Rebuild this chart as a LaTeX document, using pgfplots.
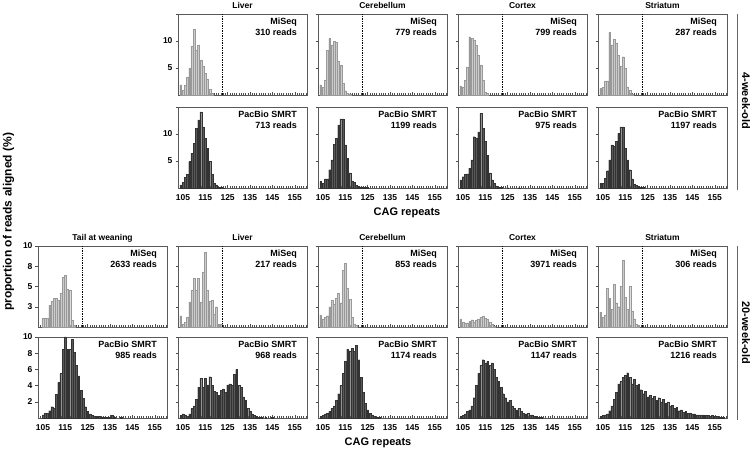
\documentclass[border=0pt]{standalone}
\usepackage{fontspec}
\setmainfont{Liberation Sans}
\usepackage{pgfplots}
\pgfplotsset{compat=1.18}

\pgfplotsset{
  panel/.style={
    scale only axis, width=129pt, height=81pt, anchor=north west,
    xmin=102.8, xmax=160.5, ymin=0, clip=false,
    xtick={105,115,...,155}, minor xtick={103,...,160},
    tick pos=left,
    tick align=inside, major tick length=2.5pt, minor tick length=2pt,
    ytick style={xshift=-2.5pt},
    xticklabels={}, yticklabels={},
    axis line style={black!65, line width=0.8pt},
    tick style={black!70, line width=0.4pt},
    font=\bfseries\fontsize{8.5}{9}\selectfont,
    tick label style={font=\bfseries\fontsize{8.5}{9}\selectfont},
    /pgf/number format/assume math mode=true,
    xticklabel style={yshift=-3pt},
    yticklabel style={xshift=-2pt},
  },
  mi/.style={ybar, bar width=0.85, fill=gray!40, draw=gray!80, line width=0.3pt},
  pb/.style={ybar, bar width=0.8, fill=black!65, draw=black!80, line width=0.2pt},
  topy/.style={ymax=15, ytick={5,10,15}},
  topyl/.style={ymax=15, ytick={5,10}, extra y ticks={15}, extra y tick labels={},
                yticklabel={\pgfmathprintnumber{\tick}}},
  misb/.style={ymax=10, ytick={2.5,5,7.5,10}},
  pbb/.style={ymax=10, ytick={2,4,6,8,10}},
  xlab/.style={xticklabel={\pgfmathprintnumber{\tick}}},
}
\tikzset{
  lbl/.style={anchor=north east, align=right, inner sep=0pt, xshift=-10pt, yshift=-4pt,
              font=\bfseries\fontsize{9}{11}\selectfont},
  ttl/.style={anchor=base, yshift=5pt, font=\bfseries\fontsize{8.5}{9}\selectfont},
}

\begin{document}
\begin{tikzpicture}
\path[use as bounding box] (0,0) rectangle (753pt,453pt);

% ================= 4-week-old =================
% Liver
\begin{axis}[panel, topyl, at={(178pt,439pt)}]
\addplot[mi] coordinates {(104,1.9)(105,0.9)(106,1.8)(107,3.3)(108,5.0)(109,9.0)(110,12.2)(111,8.3)(112,9.3)(113,6.5)(114,5.4)(115,4.0)(116,3.0)(117,1.0)(118,0.3)};
\draw[densely dotted, line width=0.7pt] (axis cs:122.5,0) -- (axis cs:122.5,15);
\node[lbl] at (rel axis cs:1,1) {MiSeq\\310 reads};
\node[ttl] at (rel axis cs:0.5,1) {Liver};
\end{axis}
\begin{axis}[panel, topyl, xlab, at={(178pt,346pt)}]
\addplot[pb] coordinates {(104,0.6)(105,1.1)(106,2.0)(107,2.5)(108,4.9)(109,6.4)(110,8.3)(111,11.0)(112,12.6)(113,14.1)(114,11.3)(115,9.2)(116,7.4)(117,4.9)(118,2.5)(119,0.9)(120,0.6)(121,0.2)(122,0.1)(123,0.05)};
\node[lbl] at (rel axis cs:1,1) {PacBio SMRT\\713 reads};
\end{axis}

% Cerebellum
\begin{axis}[panel, topy, at={(318pt,439pt)}]
\addplot[mi] coordinates {(104,1.9)(105,1.4)(106,2.8)(107,8.3)(108,10.5)(109,9.3)(110,9.9)(111,9.7)(112,6.2)(113,5.6)(114,2.2)(115,0.8)(116,0.3)(117,0.2)};
\draw[densely dotted, line width=0.7pt] (axis cs:122.5,0) -- (axis cs:122.5,15);
\node[lbl] at (rel axis cs:1,1) {MiSeq\\779 reads};
\node[ttl] at (rel axis cs:0.5,1) {Cerebellum};
\end{axis}
\begin{axis}[panel, topy, xlab, at={(318pt,346pt)}]
\addplot[pb] coordinates {(104,1.2)(105,0.9)(106,1.7)(107,1.7)(108,3.4)(109,5.2)(110,8.1)(111,9.2)(112,11.7)(113,12.8)(114,12.8)(115,8.0)(116,5.5)(117,2.8)(118,1.3)(119,1.1)(120,0.5)(121,0.3)(122,0.2)(123,0.2)(124,0.1)(125,0.1)};
\node[lbl] at (rel axis cs:1,1) {PacBio SMRT\\1199 reads};
\end{axis}

% Cortex
\begin{axis}[panel, topy, at={(458pt,439pt)}]
\addplot[mi] coordinates {(104,1.7)(105,1.4)(106,2.7)(107,5.2)(108,10.8)(109,10.5)(110,10.2)(111,9.3)(112,7.4)(113,5.6)(114,2.8)(115,0.6)(116,0.3)};
\draw[densely dotted, line width=0.7pt] (axis cs:122.5,0) -- (axis cs:122.5,15);
\node[lbl] at (rel axis cs:1,1) {MiSeq\\799 reads};
\node[ttl] at (rel axis cs:0.5,1) {Cortex};
\end{axis}
\begin{axis}[panel, topy, xlab, at={(458pt,346pt)}]
\addplot[pb] coordinates {(104,1.5)(105,2.1)(106,2.5)(107,2.6)(108,3.7)(109,5.2)(110,9.5)(111,9.3)(112,10.4)(113,13.8)(114,11.0)(115,8.6)(116,6.1)(117,2.8)(118,1.5)(119,0.9)(120,0.4)(121,0.2)(122,0.1)(125,0.05)(130,0.05)};
\node[lbl] at (rel axis cs:1,1) {PacBio SMRT\\975 reads};
\end{axis}

% Striatum
\begin{axis}[panel, topy, at={(598pt,439pt)}]
\addplot[mi] coordinates {(104,1.2)(105,1.4)(106,2.6)(107,2.6)(108,11.6)(109,9.3)(110,10.3)(111,9.6)(112,7.4)(113,5.4)(114,7.1)(115,4.9)(116,1.5)(117,0.9)(118,0.2)};
\draw[densely dotted, line width=0.7pt] (axis cs:122.5,0) -- (axis cs:122.5,15);
\node[lbl] at (rel axis cs:1,1) {MiSeq\\287 reads};
\node[ttl] at (rel axis cs:0.5,1) {Striatum};
\end{axis}
\begin{axis}[panel, topy, xlab, at={(598pt,346pt)}]
\addplot[pb] coordinates {(104,0.9)(105,0.9)(106,1.8)(107,3.2)(108,5.2)(109,8.0)(110,7.7)(111,8.6)(112,10.1)(113,11.3)(114,11.3)(115,7.4)(116,5.2)(117,3.4)(118,1.7)(119,0.7)(120,0.5)(121,0.3)(122,0.1)(123,0.1)};
\node[lbl] at (rel axis cs:1,1) {PacBio SMRT\\1197 reads};
\end{axis}

% ================= 20-week-old =================
% Tail at weaning
\begin{axis}[panel, misb, at={(38pt,207pt)}, yticklabels={3,5,8,10}]
\addplot[mi] coordinates {(105,1.1)(106,1.1)(107,1.1)(108,2.7)(109,3.2)(110,3.5)(111,3.5)(112,3.3)(113,4.2)(114,6.1)(115,6.4)(116,4.7)(117,4.6)(118,0.8)(119,0.2)};
\draw[densely dotted, line width=0.7pt] (axis cs:122.5,0) -- (axis cs:122.5,10);
\node[lbl] at (rel axis cs:1,1) {MiSeq\\2633 reads};
\node[ttl] at (rel axis cs:0.5,1) {Tail at weaning};
\end{axis}
\begin{axis}[panel, pbb, xlab, at={(38pt,116pt)}, yticklabel={\pgfmathprintnumber{\tick}}]
\addplot[pb] coordinates {(105,0.4)(106,0.6)(107,0.6)(108,0.9)(109,1.4)(110,1.2)(111,2.9)(112,4.4)(113,5.5)(114,8.5)(115,10.0)(116,8.5)(117,8.5)(118,9.7)(119,8.1)(120,6.5)(121,5.2)(122,3.4)(123,2.4)(124,1.4)(125,0.8)(126,0.5)(127,0.3)(128,0.25)(129,0.2)(130,0.2)(131,0.15)(132,0.15)(133,0.1)(134,0.1)(135,0.1)(136,0.3)(137,0.05)(140,0.05)};
\node[lbl] at (rel axis cs:1,1) {PacBio SMRT\\985 reads};
\end{axis}

% Liver
\begin{axis}[panel, misb, at={(178pt,207pt)}]
\addplot[mi] coordinates {(104,1.4)(105,0.4)(106,0.6)(107,1.2)(108,3.1)(109,4.5)(110,6.0)(111,4.5)(112,6.0)(113,3.1)(114,6.8)(115,9.2)(116,4.5)(117,3.2)(118,3.3)(119,1.6)(120,2.5)(121,0.3)(122,0.3)};
\draw[densely dotted, line width=0.7pt] (axis cs:122.5,0) -- (axis cs:122.5,10);
\node[lbl] at (rel axis cs:1,1) {MiSeq\\217 reads};
\node[ttl] at (rel axis cs:0.5,1) {Liver};
\end{axis}
\begin{axis}[panel, pbb, xlab, at={(178pt,116pt)}]
\addplot[pb] coordinates {(104,0.3)(105,0.5)(106,0.4)(107,0.2)(108,0.5)(109,1.2)(110,1.5)(111,2.3)(112,3.8)(113,4.9)(114,3.8)(115,4.9)(116,4.1)(117,5.1)(118,4.0)(119,3.3)(120,3.2)(121,2.8)(122,3.4)(123,3.6)(124,3.2)(125,4.1)(126,4.2)(127,4.0)(128,5.4)(129,6.0)(130,4.0)(131,3.8)(132,2.6)(133,2.2)(134,1.2)(135,0.8)(136,0.5)(137,0.3)(138,0.2)(139,0.1)(140,0.1)(142,0.05)(145,0.05)};
\node[lbl] at (rel axis cs:1,1) {PacBio SMRT\\968 reads};
\end{axis}

% Cerebellum
\begin{axis}[panel, misb, at={(318pt,207pt)}]
\addplot[mi] coordinates {(104,1.5)(105,1.0)(106,1.2)(107,1.4)(108,2.5)(109,3.3)(110,2.8)(111,3.5)(112,4.2)(113,3.0)(114,7.0)(115,7.9)(116,4.8)(117,3.4)(118,1.2)(119,0.4)(120,0.2)};
\draw[densely dotted, line width=0.7pt] (axis cs:122.5,0) -- (axis cs:122.5,10);
\node[lbl] at (rel axis cs:1,1) {MiSeq\\853 reads};
\node[ttl] at (rel axis cs:0.5,1) {Cerebellum};
\end{axis}
\begin{axis}[panel, pbb, xlab, at={(318pt,116pt)}]
\addplot[pb] coordinates {(104,0.2)(105,0.3)(106,0.5)(107,0.6)(108,0.8)(109,1.2)(110,1.5)(111,2.2)(112,3.0)(113,4.0)(114,5.5)(115,7.0)(116,8.5)(117,8.3)(118,8.6)(119,8.2)(120,9.0)(121,7.2)(122,5.0)(123,3.2)(124,1.8)(125,1.0)(126,0.6)(127,0.4)(128,0.2)(129,0.15)(130,0.1)};
\node[lbl] at (rel axis cs:1,1) {PacBio SMRT\\1174 reads};
\end{axis}

% Cortex
\begin{axis}[panel, misb, at={(458pt,207pt)}]
\addplot[mi] coordinates {(104,1.0)(105,0.6)(106,0.5)(107,0.5)(108,0.7)(109,0.9)(110,0.6)(111,0.8)(112,1.0)(113,1.2)(114,1.3)(115,1.1)(116,1.0)(117,0.6)(118,0.3)(119,0.1)};
\draw[densely dotted, line width=0.7pt] (axis cs:122.5,0) -- (axis cs:122.5,10);
\node[lbl] at (rel axis cs:1,1) {MiSeq\\3971 reads};
\node[ttl] at (rel axis cs:0.5,1) {Cortex};
\end{axis}
\begin{axis}[panel, pbb, xlab, at={(458pt,116pt)}]
\addplot[pb] coordinates {(104,0.2)(105,0.3)(106,0.5)(107,0.8)(108,1.0)(109,1.5)(110,2.5)(111,4.0)(112,5.5)(113,6.5)(114,7.2)(115,6.8)(116,7.0)(117,6.5)(118,6.8)(119,6.0)(120,5.0)(121,4.5)(122,3.8)(123,3.0)(124,2.5)(125,2.0)(126,2.2)(127,1.5)(128,1.2)(129,1.0)(130,1.2)(131,0.8)(132,0.6)(133,0.5)(134,0.6)(135,0.3)(136,0.4)(137,0.2)(138,0.2)(139,0.1)(140,0.1)};
\node[lbl] at (rel axis cs:1,1) {PacBio SMRT\\1147 reads};
\end{axis}

% Striatum
\begin{axis}[panel, misb, at={(598pt,207pt)}]
\addplot[mi] coordinates {(104,1.8)(105,1.2)(106,1.5)(107,4.8)(108,3.5)(109,2.2)(110,5.3)(111,3.0)(112,2.5)(113,5.0)(114,8.2)(115,3.7)(116,2.2)(117,5.0)(118,2.0)(119,1.0)(120,0.4)(121,0.2)};
\draw[densely dotted, line width=0.7pt] (axis cs:122.5,0) -- (axis cs:122.5,10);
\node[lbl] at (rel axis cs:1,1) {MiSeq\\306 reads};
\node[ttl] at (rel axis cs:0.5,1) {Striatum};
\end{axis}
\begin{axis}[panel, pbb, xlab, at={(598pt,116pt)}]
\addplot[pb] coordinates {(104,0.2)(105,0.3)(106,0.4)(107,0.5)(108,0.9)(109,1.5)(110,2.3)(111,3.2)(112,4.2)(113,4.5)(114,5.0)(115,5.3)(116,5.6)(117,5.0)(118,4.2)(119,4.8)(120,4.0)(121,4.2)(122,3.5)(123,3.0)(124,3.3)(125,2.6)(126,2.8)(127,2.4)(128,2.7)(129,2.2)(130,2.5)(131,2.0)(132,2.3)(133,1.8)(134,2.0)(135,1.5)(136,1.6)(137,1.2)(138,1.3)(139,0.9)(140,1.0)(141,0.7)(142,0.8)(143,0.6)(144,0.6)(145,0.5)(146,0.5)(147,0.4)(148,0.4)(149,0.3)(150,0.4)(151,0.3)(152,0.3)(153,0.2)(154,0.3)(155,0.2)(156,0.2)(157,0.15)(158,0.1)(159,0.1)};
\node[lbl] at (rel axis cs:1,1) {PacBio SMRT\\1216 reads};
\end{axis}

% ================= labels =================
\node[font=\bfseries\fontsize{11}{12}\selectfont] at (407pt,240pt) {CAG repeats};
\node[font=\bfseries\fontsize{11}{12}\selectfont] at (378pt,10pt) {CAG repeats};
\node[rotate=90, font=\bfseries\fontsize{12}{13}\selectfont] at (8.5pt,231pt) {proportion of reads aligned (\%)};
\draw[black!60, line width=1pt] (737pt,439pt) -- (737pt,263pt);
\draw[black!60, line width=1pt] (737pt,207pt) -- (737pt,33pt);
\node[rotate=-90, font=\bfseries\fontsize{11}{12}\selectfont] at (746pt,352pt) {4-week-old};
\node[rotate=-90, font=\bfseries\fontsize{11}{12}\selectfont] at (746pt,120pt) {20-week-old};
\end{tikzpicture}
\end{document}
